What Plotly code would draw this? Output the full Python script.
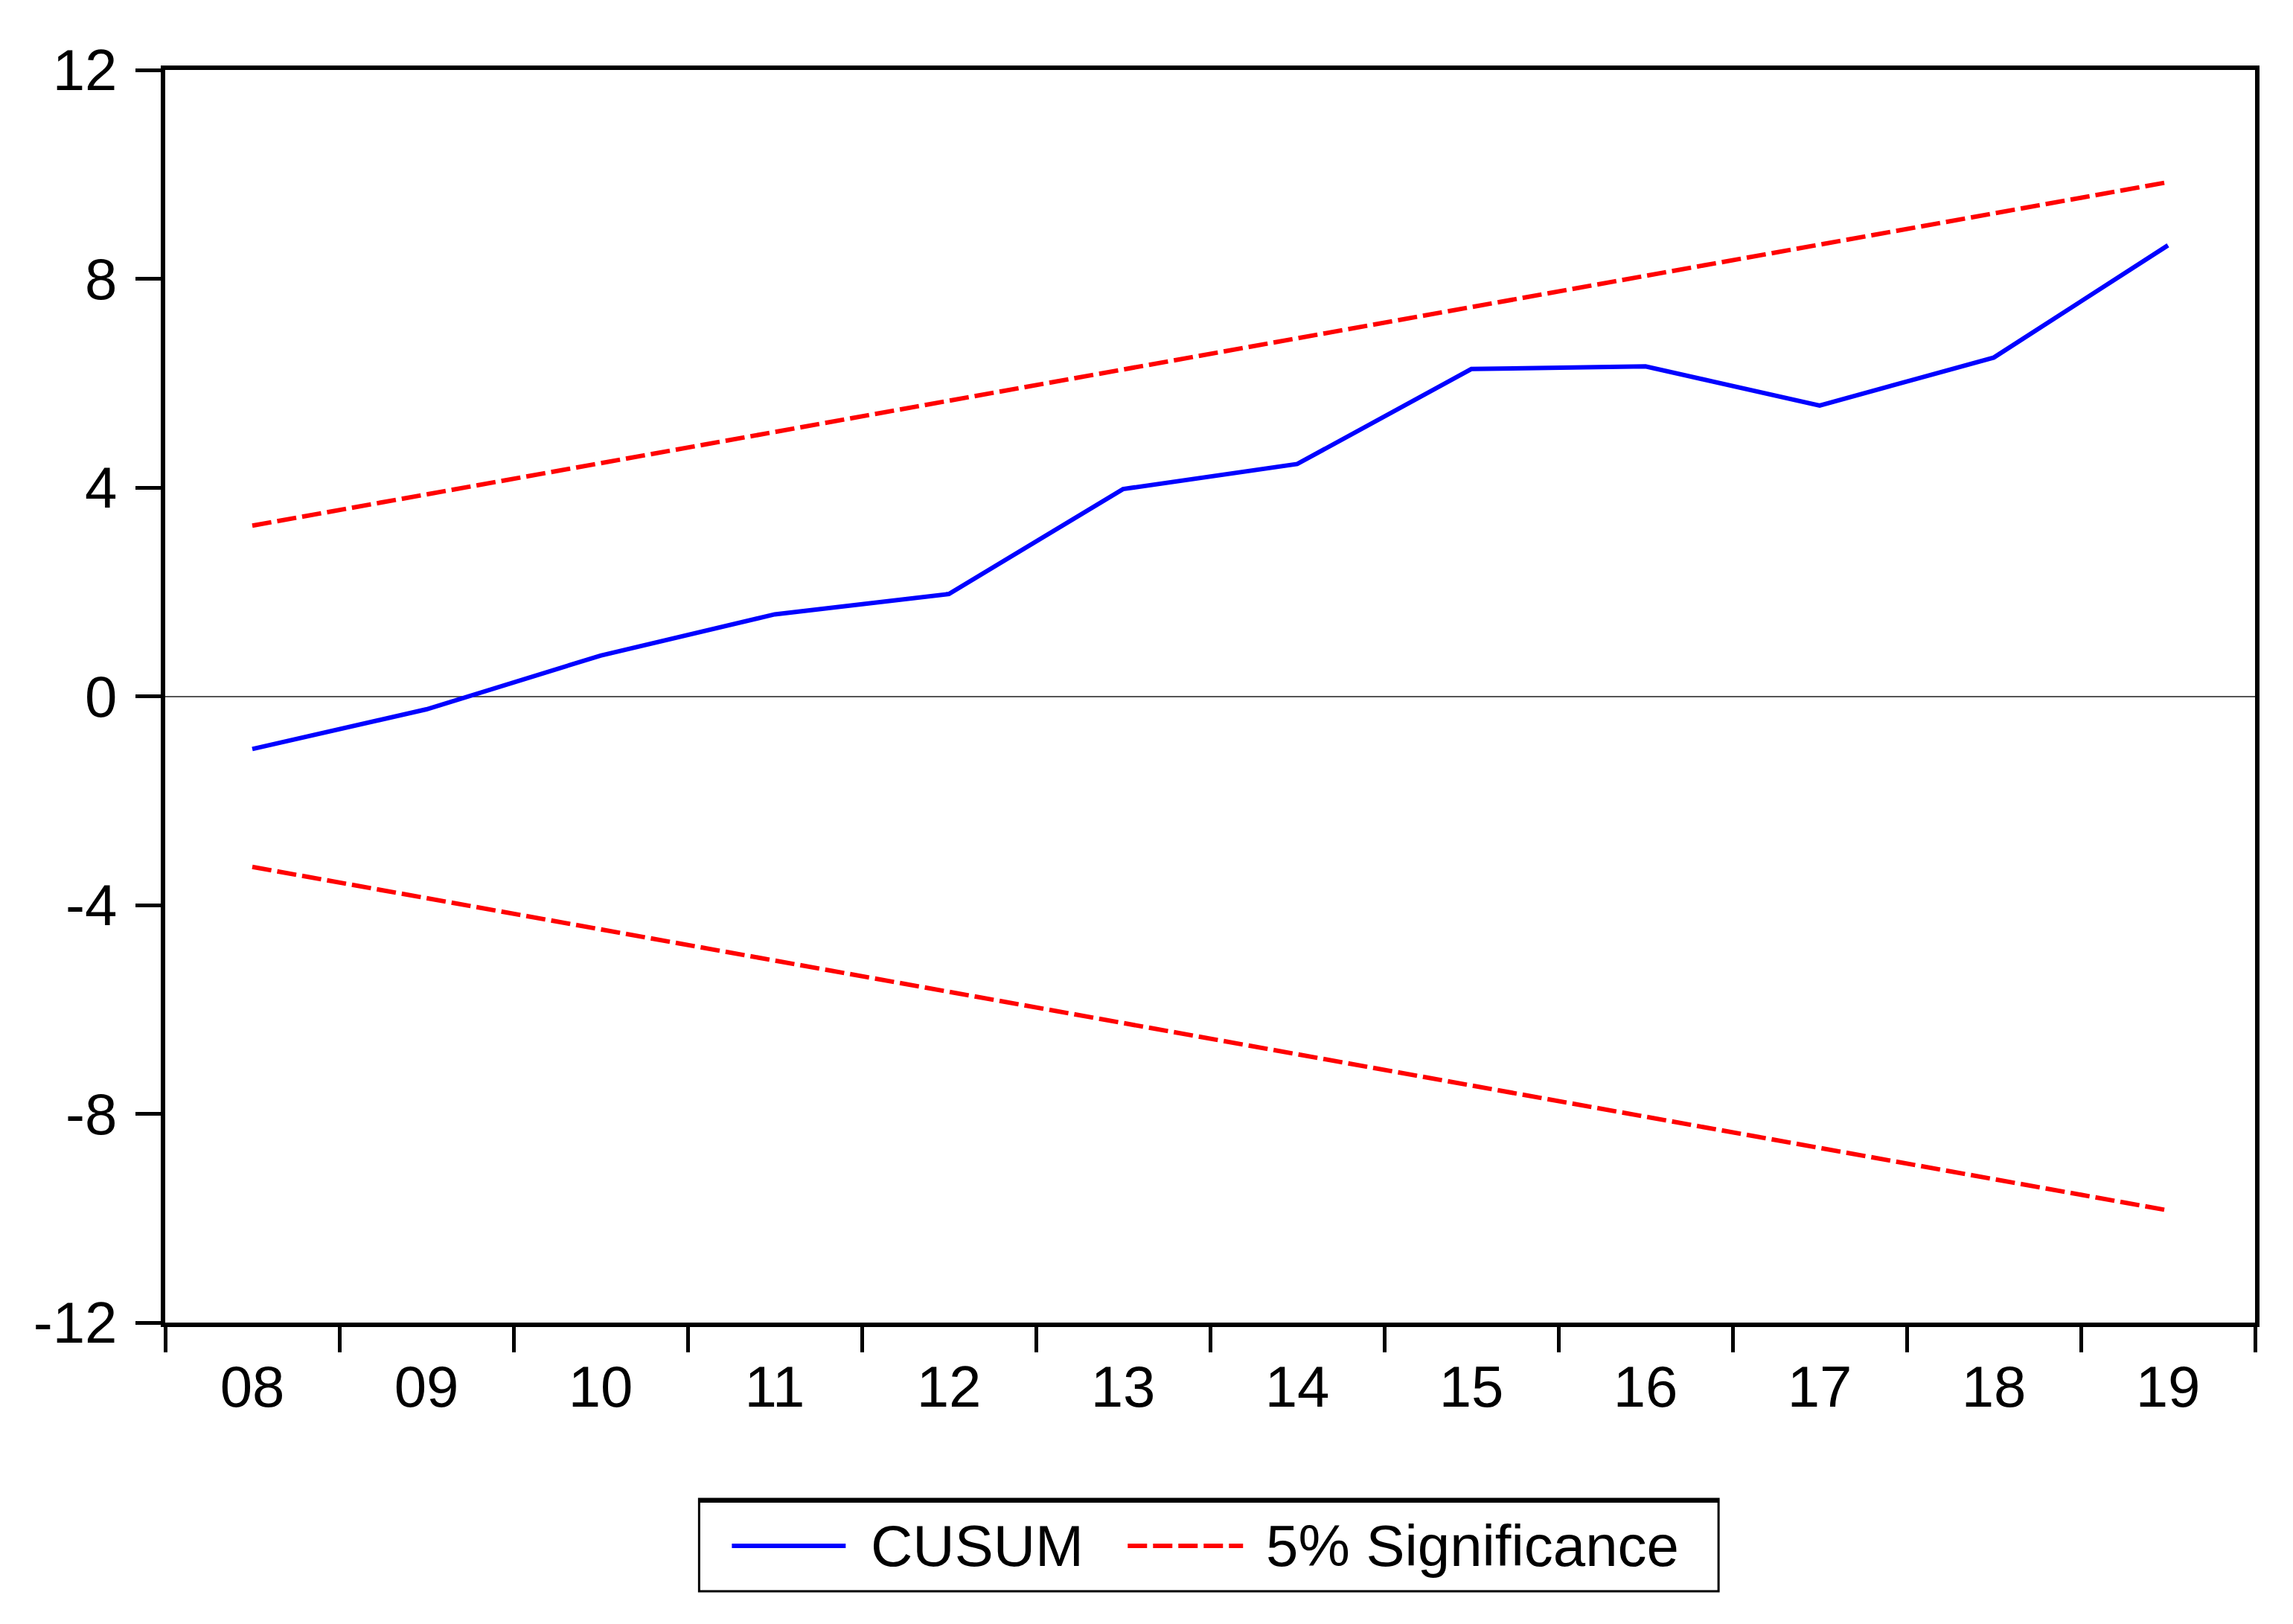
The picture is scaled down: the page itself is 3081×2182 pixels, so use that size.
import plotly.graph_objects as go

# ---- data ----
years = ["08", "09", "10", "11", "12", "13", "14", "15", "16", "17", "18", "19"]
cusum = [-1.01, -0.25, 0.78, 1.57, 1.96, 3.97, 4.45, 6.27, 6.32, 5.57, 6.49, 8.64]
upper = [3.27, 3.87, 4.47, 5.07, 5.67, 6.27, 6.87, 7.46, 8.06, 8.66, 9.26, 9.85]
lower = [-3.27, -3.87, -4.47, -5.07, -5.67, -6.27, -6.87, -7.46, -8.06, -8.66, -9.26, -9.85]
y_ticks = [-12, -8, -4, 0, 4, 8, 12]
y_labels = ["-12", "-8", "-4", "0", "4", "8", "12"]
series_names = ["CUSUM", "5% Significance"]

# page is 3081x2182; the html body has an 8px margin
OFF = 8
W, H = 3081 - 2 * OFF, 2182 - 2 * OFF
# desired plot-area edges in page pixels
PL, PR, PT, PB = 221.5, 3030, 93.5, 1777
L = PL - OFF
T = PT - OFF
R = (OFF + W) - PR
B = (OFF + H) - PB

FONT = "Arial, Liberation Sans, sans-serif"
FS = 78
BLUE = "#0000FF"
RED = "#FF0000"
DASH = "26px,8px"

fig = go.Figure()
fig.add_trace(go.Scatter(x=years, y=cusum, mode="lines", name=series_names[0],
                         line=dict(color=BLUE, width=6), showlegend=False))
fig.add_trace(go.Scatter(x=years, y=upper, mode="lines", name=series_names[1],
                         line=dict(color=RED, width=6, dash=DASH), showlegend=False))
fig.add_trace(go.Scatter(x=years, y=lower, mode="lines", name=series_names[1],
                         line=dict(color=RED, width=6, dash=DASH), showlegend=False))

def px(x):
    # page x pixel -> paper coordinate
    return (x - PL) / (PR - PL)

def py(y):
    # page y pixel -> paper coordinate
    return (PB - y) / (PB - PT)

shapes = []
# legend box
bx0, bx1, by0, by1 = 939, 2309, 2014, 2138
shapes.append(dict(type="rect", xref="paper", yref="paper",
                   x0=px(bx0), x1=px(bx1), y0=py(by1), y1=py(by0),
                   line=dict(color="black", width=3), fillcolor="white", layer="above"))
shapes.append(dict(type="line", xref="paper", yref="paper",
                   x0=px(bx0), x1=px(bx1), y0=py(by0 + 2), y1=py(by0 + 2),
                   line=dict(color="black", width=6)))
ly = 2077
shapes.append(dict(type="line", xref="paper", yref="paper",
                   x0=px(983), x1=px(1136), y0=py(ly), y1=py(ly),
                   line=dict(color=BLUE, width=6)))
shapes.append(dict(type="line", xref="paper", yref="paper",
                   x0=px(1515), x1=px(1670), y0=py(ly), y1=py(ly),
                   line=dict(color=RED, width=6, dash=DASH)))

annotations = [
    dict(text=series_names[0], xref="paper", yref="paper", x=px(1168), y=py(ly),
         xanchor="left", yanchor="middle", showarrow=False,
         font=dict(family=FONT, size=FS, color="black")),
    dict(text=series_names[1], xref="paper", yref="paper", x=px(1699), y=py(ly),
         xanchor="left", yanchor="middle", showarrow=False,
         font=dict(family=FONT, size=FS, color="black")),
]

fig.update_layout(
    width=W, height=H,
    margin=dict(l=L, r=R, t=T, b=B, autoexpand=False),
    paper_bgcolor="white", plot_bgcolor="white",
    font=dict(family=FONT, size=FS, color="black"),
    showlegend=False,
    shapes=shapes,
    annotations=annotations,
    xaxis=dict(type="category", tickson="boundaries", range=[-0.5, 11.5],
               showline=True, linecolor="black", linewidth=6, mirror=True,
               ticks="outside", ticklen=34, tickwidth=5, tickcolor="black",
               showgrid=False, zeroline=False, ticklabelstandoff=13,
               tickfont=dict(family=FONT, size=FS, color="black")),
    yaxis=dict(range=[-12, 12], tickvals=y_ticks, ticktext=y_labels,
               showline=True, linecolor="black", linewidth=6, mirror=True,
               ticks="outside", ticklen=34, tickwidth=5, tickcolor="black",
               showgrid=False, zeroline=True, zerolinecolor="#555555", zerolinewidth=1.5,
               ticklabelstandoff=9,
               tickfont=dict(family=FONT, size=FS, color="black")),
)

fig.write_html("out.html")
